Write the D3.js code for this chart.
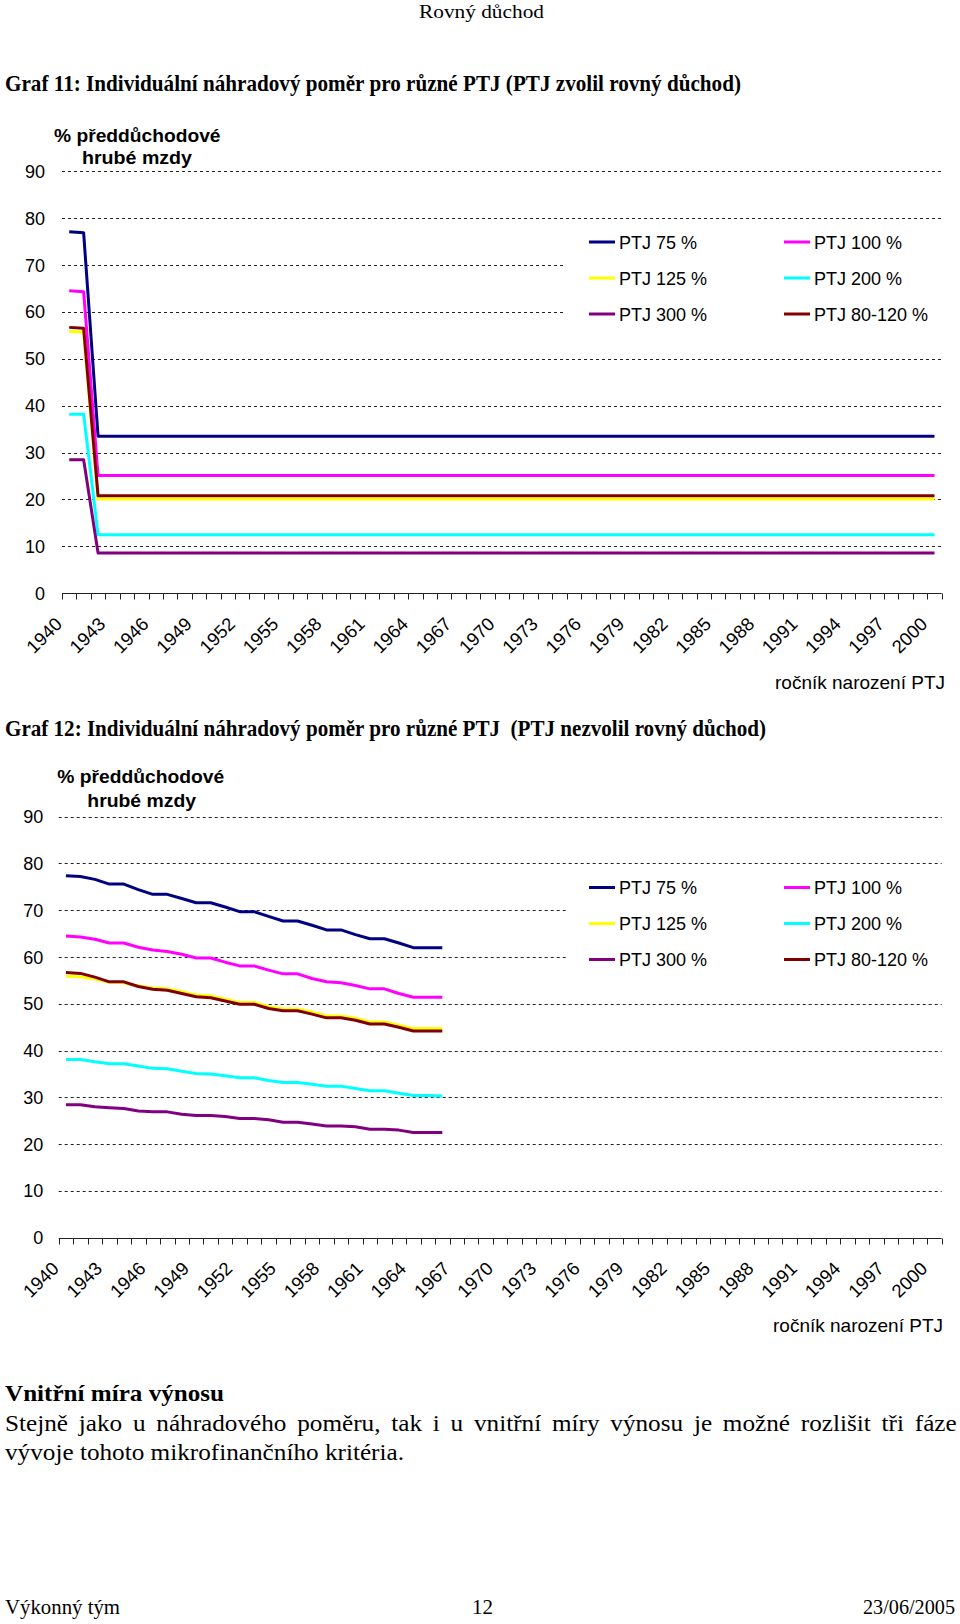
<!DOCTYPE html>
<html><head><meta charset="utf-8">
<script src="https://cdn.jsdelivr.net/npm/d3@7"></script>
<style>
html,body{margin:0;padding:0;background:#fff;}
svg{display:block;}
text{white-space:pre;}
</style></head><body>
<svg id="page" width="960" height="1624"></svg>
<script>
// ---------- data ----------
const categories = [
  1940,1941,1942,1943,1944,1945,1946,1947,1948,1949,
  1950,1951,1952,1953,1954,1955,1956,1957,1958,1959,
  1960,1961,1962,1963,1964,1965,1966,1967,1968,1969,
  1970,1971,1972,1973,1974,1975,1976,1977,1978,1979,
  1980,1981,1982,1983,1984,1985,1986,1987,1988,1989,
  1990,1991,1992,1993,1994,1995,1996,1997,1998,1999,
  2000];
const tickLabels = ["1940","1943","1946","1949","1952","1955","1958","1961","1964","1967",
  "1970","1973","1976","1979","1982","1985","1988","1991","1994","1997","2000"];
const yTicks = [0,10,20,30,40,50,60,70,80,90];
const seriesNames = ["PTJ 75 %","PTJ 100 %","PTJ 125 %","PTJ 200 %","PTJ 300 %","PTJ 80-120 %"];
const seriesColors = ["#000080","#FF00FF","#FFFF00","#00FFFF","#800080","#800000"];

// Graf 11 (PTJ zvolil rovný důchod), 1940..2000
const g11_ptj75 = [
  77.1,76.9,33.5,33.5,33.5,33.5,33.5,33.5,33.5,33.5,
  33.5,33.5,33.5,33.5,33.5,33.5,33.5,33.5,33.5,33.5,
  33.5,33.5,33.5,33.5,33.5,33.5,33.5,33.5,33.5,33.5,
  33.5,33.5,33.5,33.5,33.5,33.5,33.5,33.5,33.5,33.5,
  33.5,33.5,33.5,33.5,33.5,33.5,33.5,33.5,33.5,33.5,
  33.5,33.5,33.5,33.5,33.5,33.5,33.5,33.5,33.5,33.5,
  33.5];
const g11_ptj100 = [
  64.5,64.3,25.1,25.1,25.1,25.1,25.1,25.1,25.1,25.1,
  25.1,25.1,25.1,25.1,25.1,25.1,25.1,25.1,25.1,25.1,
  25.1,25.1,25.1,25.1,25.1,25.1,25.1,25.1,25.1,25.1,
  25.1,25.1,25.1,25.1,25.1,25.1,25.1,25.1,25.1,25.1,
  25.1,25.1,25.1,25.1,25.1,25.1,25.1,25.1,25.1,25.1,
  25.1,25.1,25.1,25.1,25.1,25.1,25.1,25.1,25.1,25.1,
  25.1];
const g11_ptj125 = [
  55.8,55.7,20.1,20.1,20.1,20.1,20.1,20.1,20.1,20.1,
  20.1,20.1,20.1,20.1,20.1,20.1,20.1,20.1,20.1,20.1,
  20.1,20.1,20.1,20.1,20.1,20.1,20.1,20.1,20.1,20.1,
  20.1,20.1,20.1,20.1,20.1,20.1,20.1,20.1,20.1,20.1,
  20.1,20.1,20.1,20.1,20.1,20.1,20.1,20.1,20.1,20.1,
  20.1,20.1,20.1,20.1,20.1,20.1,20.1,20.1,20.1,20.1,
  20.1];
const g11_ptj200 = [
  38.2,38.2,12.5,12.5,12.5,12.5,12.5,12.5,12.5,12.5,
  12.5,12.5,12.5,12.5,12.5,12.5,12.5,12.5,12.5,12.5,
  12.5,12.5,12.5,12.5,12.5,12.5,12.5,12.5,12.5,12.5,
  12.5,12.5,12.5,12.5,12.5,12.5,12.5,12.5,12.5,12.5,
  12.5,12.5,12.5,12.5,12.5,12.5,12.5,12.5,12.5,12.5,
  12.5,12.5,12.5,12.5,12.5,12.5,12.5,12.5,12.5,12.5,
  12.5];
const g11_ptj300 = [
  28.5,28.5,8.6,8.6,8.6,8.6,8.6,8.6,8.6,8.6,
  8.6,8.6,8.6,8.6,8.6,8.6,8.6,8.6,8.6,8.6,
  8.6,8.6,8.6,8.6,8.6,8.6,8.6,8.6,8.6,8.6,
  8.6,8.6,8.6,8.6,8.6,8.6,8.6,8.6,8.6,8.6,
  8.6,8.6,8.6,8.6,8.6,8.6,8.6,8.6,8.6,8.6,
  8.6,8.6,8.6,8.6,8.6,8.6,8.6,8.6,8.6,8.6,
  8.6];
const g11_ptj80_120 = [
  56.7,56.5,20.8,20.8,20.8,20.8,20.8,20.8,20.8,20.8,
  20.8,20.8,20.8,20.8,20.8,20.8,20.8,20.8,20.8,20.8,
  20.8,20.8,20.8,20.8,20.8,20.8,20.8,20.8,20.8,20.8,
  20.8,20.8,20.8,20.8,20.8,20.8,20.8,20.8,20.8,20.8,
  20.8,20.8,20.8,20.8,20.8,20.8,20.8,20.8,20.8,20.8,
  20.8,20.8,20.8,20.8,20.8,20.8,20.8,20.8,20.8,20.8,
  20.8];

// Graf 12 (PTJ nezvolil rovný důchod), 1940..1966
const g12_ptj75 = [77.4,77.2,76.6,75.6,75.6,74.4,73.4,73.4,72.5,71.6,71.6,70.7,69.7,69.7,68.7,67.7,67.7,66.8,65.8,65.8,64.8,63.9,63.9,63.0,62.0,62.0,62.0];
const g12_ptj100 = [64.5,64.3,63.8,63.0,63.0,62.1,61.5,61.2,60.6,59.8,59.8,58.9,58.1,58.1,57.2,56.4,56.4,55.4,54.7,54.5,53.9,53.2,53.2,52.2,51.4,51.4,51.4];
const g12_ptj125 = [55.9,55.8,55.3,54.6,54.5,53.8,53.4,53.2,52.6,51.9,51.7,51.0,50.3,50.3,49.4,48.9,48.9,48.2,47.4,47.4,46.9,46.1,46.1,45.4,44.7,44.7,44.7];
const g12_ptj200 = [38.1,38.1,37.6,37.2,37.2,36.7,36.2,36.1,35.6,35.1,35.0,34.6,34.2,34.2,33.6,33.2,33.2,32.8,32.4,32.4,31.9,31.4,31.4,30.9,30.4,30.4,30.3];
const g12_ptj300 = [28.4,28.4,28.0,27.8,27.6,27.1,26.9,26.9,26.4,26.1,26.1,25.9,25.5,25.5,25.2,24.7,24.7,24.3,23.9,23.9,23.7,23.2,23.2,23.0,22.5,22.5,22.5];
const g12_ptj80_120 = [56.7,56.5,55.7,54.7,54.7,53.7,53.1,52.9,52.2,51.5,51.3,50.6,49.9,49.9,49.0,48.5,48.5,47.8,47.0,47.0,46.5,45.7,45.7,45.0,44.2,44.2,44.2];

// ---------- drawing ----------
const svg = d3.select("#page");
const serif = "'Liberation Serif','Times New Roman',serif";
const sans = "'Liberation Sans',Arial,sans-serif";

function pageText(t, x, y, size, weight, anchor, width) {
  const el = svg.append("text").attr("x", x).attr("y", y)
    .attr("text-anchor", anchor).attr("fill", "#000")
    .style("font-family", serif).style("font-size", size + "px").style("font-weight", weight)
    .text(t);
  if (width) el.attr("textLength", width).attr("lengthAdjust", "spacingAndGlyphs");
  return el;
}

pageText("Rovný důchod", 481.5, 18, 19.5, "normal", "middle", 125);
pageText("Graf 11: Individuální náhradový poměr pro různé PTJ (PTJ zvolil rovný důchod)", 5, 91, 22.5, "bold", "start", 736);
pageText("Graf 12: Individuální náhradový poměr pro různé PTJ  (PTJ nezvolil rovný důchod)", 5, 736, 22.5, "bold", "start", 761);
pageText("Vnitřní míra výnosu", 5, 1401, 23.5, "bold", "start", 219);
const l3 = pageText("vývoje tohoto mikrofinančního kritéria.", 5, 1460, 23.5, "normal", "start", null);
// justified line
(function(){
  const w3 = l3.node().getComputedTextLength();
  const s = 399 / w3;
  l3.attr("textLength", 399).attr("lengthAdjust", "spacingAndGlyphs");
  const txt = "Stejně jako u náhradového poměru, tak i u vnitřní míry výnosu je možné rozlišit tři fáze";
  const l2 = svg.append("text").attr("fill", "#000")
    .style("font-family", serif).style("font-size", "23.5px").text(txt);
  const w2 = l2.node().getComputedTextLength();
  const nSp = txt.split(" ").length - 1;
  const ws = (952 / s - w2) / nSp;
  l2.style("word-spacing", ws + "px")
    .attr("transform", `translate(5,1431) scale(${s},1)`);
})();
pageText("Výkonný tým", 5, 1614, 21, "normal", "start", 115);
pageText("12", 482.5, 1614, 21, "normal", "middle", 21);
pageText("23/06/2005", 955, 1614, 21, "normal", "end", 92);

function drawChart(cfg, series) {
  const g = svg.append("g");
  const x = d3.scaleBand().domain(categories).range([cfg.x0, cfg.x1]).paddingInner(0).paddingOuter(0);
  const y = d3.scaleLinear().domain([0, 90]).range([cfg.yBase, cfg.yTop]);
  const cx = c => x(c) + x.bandwidth() / 2;

  // gridlines
  g.append("g").selectAll("line").data(yTicks.filter(v => v > 0)).join("line")
    .attr("x1", cfg.x0).attr("x2", cfg.x1)
    .attr("y1", d => Math.round(y(d)) + 0.5).attr("y2", d => Math.round(y(d)) + 0.5)
    .attr("stroke", "#222").attr("stroke-width", 1).attr("stroke-dasharray", "3,3");

  // legend background
  g.append("rect").attr("x", 566).attr("y", cfg.yTop + 55).attr("width", 380).attr("height", 108)
    .attr("fill", "#fff");

  // y tick labels
  g.append("g").selectAll("text").data(yTicks).join("text")
    .attr("x", cfg.yLabelX).attr("y", d => y(d) + 6.5).attr("text-anchor", "end")
    .attr("fill", "#000").style("font-family", sans).style("font-size", "18px")
    .text(d => d);

  // y axis title
  g.append("text").attr("x", cfg.t1[0]).attr("y", cfg.t1[1]).attr("textLength", cfg.t1[2])
    .attr("lengthAdjust", "spacingAndGlyphs")
    .style("font-family", sans).style("font-size", "18px").style("font-weight", "bold")
    .text("% předdůchodové");
  g.append("text").attr("x", cfg.t2[0]).attr("y", cfg.t2[1]).attr("textLength", cfg.t2[2])
    .attr("lengthAdjust", "spacingAndGlyphs")
    .style("font-family", sans).style("font-size", "18px").style("font-weight", "bold")
    .text("hrubé mzdy");

  // x axis
  const ay = Math.round(cfg.yBase) + 0.5;
  g.append("line").attr("x1", cfg.x0).attr("x2", cfg.x1).attr("y1", ay).attr("y2", ay)
    .attr("stroke", "#222");
  const bounds = categories.map(c => x(c)).concat([cfg.x1]);
  g.append("g").selectAll("line").data(bounds).join("line")
    .attr("x1", d => Math.round(d) + 0.5).attr("x2", d => Math.round(d) + 0.5)
    .attr("y1", ay).attr("y2", ay + 6).attr("stroke", "#222");

  g.append("g").selectAll("text").data(tickLabels).join("text")
    .attr("transform", d => `translate(${cx(+d) - 6},${cfg.yBase + 32}) rotate(-45)`)
    .attr("text-anchor", "end").attr("fill", "#000")
    .style("font-family", sans).style("font-size", "18.5px")
    .text(d => d);

  g.append("text").attr("x", cfg.xt[0]).attr("y", cfg.xt[1]).attr("text-anchor", "end")
    .attr("textLength", 170).attr("lengthAdjust", "spacingAndGlyphs")
    .style("font-family", sans).style("font-size", "19px")
    .text("ročník narození PTJ");

  // series
  const line = d3.line().x((d, i) => cx(categories[i])).y(d => y(d));
  g.append("g").selectAll("path").data(series).join("path")
    .attr("d", d => line(d)).attr("fill", "none")
    .attr("stroke", (d, i) => seriesColors[i]).attr("stroke-width", 3)
    .attr("stroke-linejoin", "round");

  // legend
  const rowOff = [70.8, 106.8, 142.8];
  const cols = [{lx: 589, tx: 619}, {lx: 784, tx: 814}];
  const items = seriesNames.map((n, i) => ({n, i, col: cols[i % 2], ry: cfg.yTop + rowOff[Math.floor(i / 2)]}));
  const lg = g.append("g").selectAll("g").data(items).join("g");
  lg.append("line").attr("x1", d => d.col.lx).attr("x2", d => d.col.lx + 26)
    .attr("y1", d => d.ry).attr("y2", d => d.ry)
    .attr("stroke", d => seriesColors[d.i]).attr("stroke-width", 3);
  lg.append("text").attr("x", d => d.col.tx).attr("y", d => d.ry + 6.5)
    .attr("fill", "#000").style("font-family", sans).style("font-size", "18px")
    .text(d => d.n);
}

drawChart({x0: 62, x1: 941.7, yBase: 593.3, yTop: 171.2, yLabelX: 45,
  t1: [54, 141.7, 166.5], t2: [82, 164, 110], xt: [945, 689.3]},
  [g11_ptj75, g11_ptj100, g11_ptj125, g11_ptj200, g11_ptj300, g11_ptj80_120]);

drawChart({x0: 58.7, x1: 941.7, yBase: 1237.7, yTop: 816.7, yLabelX: 43.3,
  t1: [57.3, 783.3, 167], t2: [87.3, 807.3, 108.7], xt: [943, 1331.7]},
  [g12_ptj75, g12_ptj100, g12_ptj125, g12_ptj200, g12_ptj300, g12_ptj80_120]);
</script>
</body></html>
